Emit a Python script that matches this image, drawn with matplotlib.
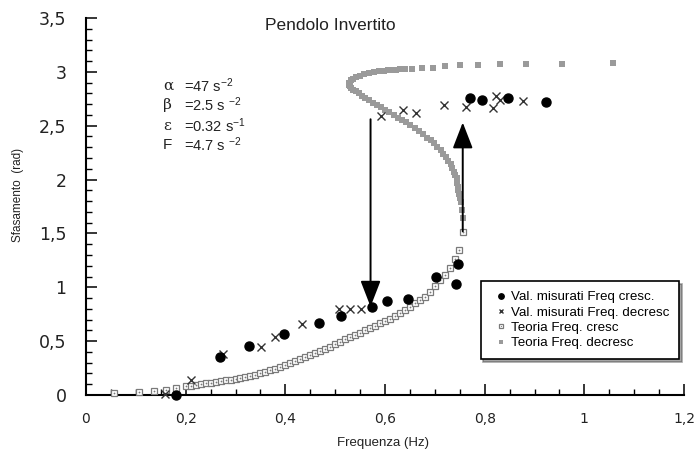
import matplotlib
matplotlib.use("Agg")
import matplotlib.pyplot as plt
from matplotlib.ticker import MultipleLocator, FuncFormatter

plt.rcParams['font.family'] = ['Liberation Sans', 'DejaVu Sans']
plt.rcParams['mathtext.fontset'] = 'custom'
plt.rcParams['mathtext.rm'] = 'Liberation Sans'
plt.rcParams['mathtext.it'] = 'Liberation Sans:italic'

# ---------------- data ----------------
meas_up_x = [0.181, 0.269, 0.328, 0.398, 0.467, 0.512, 0.574, 0.604, 0.646, 0.702,
             0.747, 0.743, 0.770, 0.794, 0.846, 0.923]
meas_up_y = [0.00, 0.35, 0.455, 0.57, 0.67, 0.73, 0.82, 0.87, 0.89, 1.10,
             1.22, 1.03, 2.76, 2.74, 2.76, 2.72]

meas_down_x = [0.159, 0.211, 0.275, 0.352, 0.380, 0.434, 0.507, 0.529, 0.551,
               0.591, 0.637, 0.663, 0.718, 0.762, 0.816, 0.822, 0.830, 0.876]
meas_down_y = [0.01, 0.14, 0.38, 0.45, 0.54, 0.66, 0.80, 0.80, 0.80,
               2.59, 2.65, 2.62, 2.69, 2.67, 2.66, 2.78, 2.74, 2.73]

theo_up_x = [0.057, 0.106, 0.136, 0.160, 0.180,
             0.20, 0.21, 0.22, 0.23, 0.24, 0.25, 0.26, 0.27, 0.28, 0.29,
             0.30, 0.31, 0.32, 0.33, 0.34, 0.35, 0.36, 0.37, 0.38, 0.39,
             0.40, 0.41, 0.42, 0.43, 0.44, 0.45, 0.46, 0.47, 0.48, 0.49,
             0.50, 0.51, 0.52, 0.53, 0.54, 0.55, 0.56, 0.57, 0.58, 0.59,
             0.60, 0.61, 0.62, 0.63, 0.64, 0.65, 0.66, 0.67, 0.68, 0.69,
             0.70, 0.71, 0.72, 0.73, 0.74, 0.748, 0.756]
theo_up_y = [0.02, 0.03, 0.04, 0.05, 0.065,
             0.080, 0.087, 0.094, 0.100, 0.107, 0.114, 0.121, 0.128, 0.136, 0.143,
             0.151, 0.159, 0.168, 0.178, 0.190, 0.202, 0.215, 0.229, 0.244, 0.260,
             0.277, 0.294, 0.312, 0.330, 0.349, 0.368, 0.388, 0.408, 0.429, 0.450,
             0.472, 0.494, 0.517, 0.540, 0.560, 0.580, 0.600, 0.620, 0.642, 0.664,
             0.686, 0.710, 0.736, 0.763, 0.791, 0.820, 0.850, 0.880, 0.912, 0.960,
             1.010, 1.065, 1.115, 1.180, 1.260, 1.350, 1.510]

theo_down_x = [1.057, 0.955, 0.882, 0.830, 0.786, 0.750, 0.720, 0.696, 0.674, 0.655,
               0.641, 0.631, 0.623,
               0.615, 0.607, 0.598, 0.588, 0.578, 0.568, 0.557, 0.549, 0.541, 0.535,
               0.531, 0.528, 0.527, 0.529, 0.531, 0.535, 0.541, 0.547, 0.554, 0.560,
               0.567, 0.575, 0.584, 0.592, 0.601, 0.609, 0.618, 0.626, 0.635, 0.643,
               0.651, 0.660, 0.668, 0.676, 0.685, 0.692, 0.698, 0.705, 0.712, 0.717,
               0.722, 0.727, 0.732, 0.735, 0.738, 0.741, 0.744, 0.745, 0.746, 0.747,
               0.748, 0.750, 0.752, 0.755, 0.757]
theo_down_y = [3.08, 3.07, 3.07, 3.07, 3.06, 3.06, 3.05, 3.04, 3.04, 3.03,
               3.03, 3.03, 3.02,
               3.02, 3.015, 3.01, 3.005, 3.00, 2.99, 2.98, 2.965, 2.95, 2.935,
               2.92, 2.90, 2.88, 2.865, 2.85, 2.835, 2.82, 2.80, 2.78, 2.76,
               2.74, 2.715, 2.69, 2.67, 2.65, 2.625, 2.60, 2.575, 2.55, 2.53,
               2.51, 2.48, 2.45, 2.42, 2.39, 2.365, 2.34, 2.305, 2.27, 2.24,
               2.21, 2.175, 2.14, 2.105, 2.07, 2.04, 2.01, 1.97, 1.93, 1.90,
               1.87, 1.83, 1.79, 1.72, 1.64]

# jump arrows: (x, y_start, y_end)
arrow_down = (0.571, 2.56, 0.82)
arrow_up = (0.756, 1.52, 2.53)

params = [("α", "=47 s$^{-2}$"), ("β", "=2.5 s $^{-2}$"),
          ("ε", "=0.32 s$^{-1}$"), ("F", "=4.7 s $^{-2}$")]

legend_labels = ["Val. misurati Freq cresc.", "Val. misurati Freq. decresc",
                 "Teoria Freq. cresc", "Teoria Freq. decresc"]

# ---------------- figure ----------------
W, H = 696, 454
fig = plt.figure(figsize=(W / 100, H / 100), dpi=100)
ax = fig.add_axes([86 / W, 1 - 395 / H, (684 - 86) / W, (395 - 18) / H])

h_td, = ax.plot(theo_down_x, theo_down_y, ls='none', marker='s', ms=4.0,
                mfc='#9a9a9a', mec='#9a9a9a', mew=0, clip_on=False, zorder=2)
h_tu1, = ax.plot(theo_up_x, theo_up_y, ls='none', marker='s', ms=4.8,
                 mfc='white', mec='#7a7a7a', mew=0.9, clip_on=False, zorder=3)
h_tu2, = ax.plot(theo_up_x, theo_up_y, ls='none', marker='o', ms=1.3,
                 mfc='#7a7a7a', mec='#7a7a7a', mew=0, clip_on=False, zorder=3)
h_md, = ax.plot(meas_down_x, meas_down_y, ls='none', marker='x', ms=6,
                mec='#333333', mew=1.0, clip_on=False, zorder=4)
h_mu, = ax.plot(meas_up_x, meas_up_y, ls='none', marker='o', ms=6.5,
                mfc='black', mec='black', clip_on=False, zorder=5)

for (xa, y0, y1) in (arrow_down, arrow_up):
    ax.annotate("", xy=(xa, y1), xytext=(xa, y0),
                arrowprops=dict(arrowstyle='-|>,head_length=1.6,head_width=0.62',
                                color='black', lw=1.4, shrinkA=0, shrinkB=0),
                zorder=6)

ax.set_xlim(0, 1.2)
ax.set_ylim(0, 3.5)
for s in ('top', 'right'):
    ax.spines[s].set_visible(False)
for s in ('left', 'bottom'):
    ax.spines[s].set_linewidth(1.5)

ax.xaxis.set_major_locator(MultipleLocator(0.2))
ax.xaxis.set_minor_locator(MultipleLocator(0.05))
ax.yaxis.set_major_locator(MultipleLocator(0.5))
ax.yaxis.set_minor_locator(MultipleLocator(0.1))
fmt = FuncFormatter(lambda v, p: ('%g' % round(v, 3)).replace('.', ','))
ax.xaxis.set_major_formatter(fmt)
ax.yaxis.set_major_formatter(fmt)
ax.tick_params(which='major', direction='in', length=8, width=1.1)
ax.tick_params(which='minor', direction='in', length=4.5, width=1.0)
ax.tick_params(axis='x', which='major', labelsize=10, pad=12)
ax.tick_params(axis='y', which='major', labelsize=12.5, pad=14)
for lab in ax.get_xticklabels() + ax.get_yticklabels():
    lab.set_family('DejaVu Sans')
    lab.set_color('#222222')

fig.text(330 / W, 1 - 25 / H, "Pendolo Invertito", ha='center', va='center',
         fontsize=12.5, color='#222222')
fig.text(18 / W, 1 - 195 / H, "Sfasamento  (rad)", rotation=90, ha='center',
         va='center', fontsize=8.5, color='#222222')
fig.text(383 / W, 1 - 443 / H, "Frequenza (Hz)", ha='center', va='center',
         fontsize=9.5, color='#222222')

line_y = [86, 105, 126, 145]
for (g, rest), yy in zip(params, line_y):
    fam = 'DejaVu Serif' if g != 'F' else 'Liberation Sans'
    fig.text(163 / W, 1 - yy / H, g, ha='left', va='center', fontsize=11,
             family=fam, color='#222222')
    fig.text(184 / W, 1 - yy / H, rest, ha='left', va='center', fontsize=10.5,
             color='#222222')

leg = ax.legend([h_mu, h_md, (h_tu1, h_tu2), h_td], legend_labels,
                loc='upper left', bbox_to_anchor=(0.66, 0.302),
                fontsize=9.6, frameon=True, fancybox=False, shadow=True,
                edgecolor='black', framealpha=1, borderpad=0.75,
                handlelength=1.6, handletextpad=-0.1, labelspacing=0.22,
                borderaxespad=0, markerscale=0.6)
leg.get_frame().set_linewidth(1.2)
leg.set_zorder(10)

fig.savefig("out.png", dpi=100)
